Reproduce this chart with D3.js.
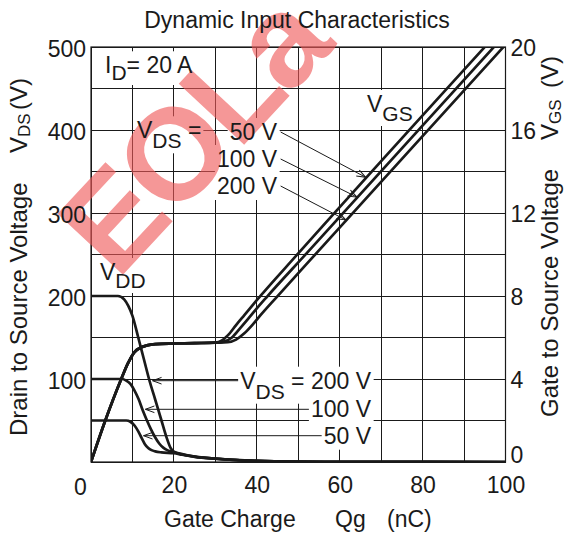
<!DOCTYPE html>
<html>
<head>
<meta charset="utf-8">
<script src="https://cdn.jsdelivr.net/npm/d3@7"></script>
<style>
  body { margin: 0; background: #fff; }
  svg { display: block; font-family: "Liberation Sans", Arial, sans-serif; }
</style>
</head>
<body>
<div id="chart"></div>
<script>
////////////////////////////////////////////////////////////////////
////////////////////////////  Data  ////////////////////////////////
const qgTicks = [0, 20, 40, 60, 80, 100];
const vdsTicks = [100, 200, 300, 400, 500];
const vgsTicks = [0, 4, 8, 12, 16, 20];
const vddNames = ["200 V", "100 V", "50 V"];

// drain-source voltage vs gate charge  [Qg nC, VDS V]
const vds200 = [[0, 200], [6.5, 200], [8, 196], [9, 188], [10, 176], [11.4, 150], [12.7, 125], [14, 100],
  [15.5, 75], [17, 50], [18.2, 30], [19.2, 17], [20, 12.5], [22, 9.5], [25, 6.6], [30, 4.1], [35, 2.5],
  [40, 1.5], [50, 0.5], [60, 0.2], [100, 0]];
const vds100 = [[0, 100], [7.5, 100], [8.5, 98], [9.5, 94], [10.5, 86], [11.5, 75.5], [12.5, 62], [13.5, 50],
  [14.5, 39], [15.5, 29.5], [16.5, 22], [17.5, 17], [18.5, 14], [20, 11.8], [22, 9.1], [25, 6.4], [30, 4],
  [35, 2.4], [40, 1.45], [50, 0.5], [60, 0.2], [100, 0]];
const vds50 = [[0, 50], [8.5, 50], [9.5, 48.5], [10.5, 44], [11.4, 37], [12.2, 29], [13, 21.5], [13.8, 17],
  [14.6, 14.3], [15.5, 12.8], [17, 11.6], [20, 10.6], [22, 8.7], [25, 6.2], [30, 3.9], [35, 2.3],
  [40, 1.4], [50, 0.5], [60, 0.2], [100, 0]];

// gate-source voltage vs gate charge  [Qg nC, VGS V]
const vgsRise = [[0, 0], [3.45, 2], [7.3, 4], [8.9, 4.75], [10.5, 5.3], [12, 5.52], [13.5, 5.62],
  [15.5, 5.68], [20, 5.71], [25, 5.73]];
const vgs50 = [[30, 5.76], [31.5, 5.85], [33, 6.1], [35, 6.6], [37, 7.08], [40, 7.8], [50, 10.05], [95, 20]];
const vgs100 = [[30, 5.75], [32, 5.8], [34, 6.0], [36, 6.45], [38, 6.92], [40, 7.4], [42.4, 7.95], [52, 10.05], [97.2, 20]];
const vgs200 = [[30, 5.75], [33, 5.77], [35, 5.9], [37, 6.2], [39, 6.62], [41, 7.1], [44.8, 7.95], [55, 10.2], [99.5, 20]];

// VGS level where the "VDS = .." pointers touch each curve (50, 100, 200 V)
const vgsArrowAt = [13.75, 12.8, 11.7];

////////////////////////////////////////////////////////////////////
////////////////////////////  Init  ////////////////////////////////
const width = 564;
const height = 536;
const margin = { top: 47, right: 58.5, bottom: 74, left: 91 };
const ink = "#1a1a1a";

const svg = d3.select("#chart").append("svg")
  .attr("width", width).attr("height", height);

const xScale = d3.scaleLinear().domain([0, 100]).range([margin.left, width - margin.right]);
const yLeft = d3.scaleLinear().domain([0, 500]).range([height - margin.bottom, margin.top]);
const yRight = d3.scaleLinear().domain([0, 20]).range([height - margin.bottom, margin.top]);

const defs = svg.append("defs");
defs.append("clipPath").attr("id", "plot-clip")
  .append("rect")
  .attr("x", margin.left).attr("y", margin.top)
  .attr("width", xScale.range()[1] - margin.left)
  .attr("height", yLeft.range()[0] - margin.top);

defs.append("marker")
  .attr("id", "arrow")
  .attr("viewBox", "-11 -5 12 10")
  .attr("refX", 0).attr("refY", 0)
  .attr("markerWidth", 12).attr("markerHeight", 10)
  .attr("markerUnits", "userSpaceOnUse")
  .attr("orient", "auto")
  .append("path")
  .attr("d", "M-9,-3.3L0,0L-9,3.3")
  .attr("fill", "none").attr("stroke", ink).attr("stroke-width", 1);

////////////////////////////////////////////////////////////////////
////////////////////////////  Grid  ////////////////////////////////
const grid = svg.append("g").attr("stroke", ink).attr("stroke-width", 1).attr("shape-rendering", "crispEdges");
grid.selectAll(".gx").data(xScale.ticks(10)).join("line")
  .attr("x1", (d) => xScale(d)).attr("x2", (d) => xScale(d))
  .attr("y1", yLeft.range()[0]).attr("y2", yLeft.range()[1]);
grid.selectAll(".gy").data(yLeft.ticks(10)).join("line")
  .attr("x1", xScale.range()[0]).attr("x2", xScale.range()[1])
  .attr("y1", (d) => yLeft(d)).attr("y2", (d) => yLeft(d));

// white boxes behind the in-plot labels go here (they hide the grid)
const bgLayer = svg.append("g");

////////////////////////////////////////////////////////////////////
////////////////////////////  Curves  //////////////////////////////
const lineVds = d3.line().x((d) => xScale(d[0])).y((d) => yLeft(d[1])).curve(d3.curveMonotoneX);
const lineVgs = d3.line().x((d) => xScale(d[0])).y((d) => yRight(d[1])).curve(d3.curveMonotoneX);

const curves = svg.append("g").attr("clip-path", "url(#plot-clip)")
  .attr("fill", "none").attr("stroke", ink).attr("stroke-width", 2.7)
  .attr("stroke-linejoin", "round");

const vdsPaths = [vds200, vds100, vds50].map((d) => curves.append("path").attr("d", lineVds(d)).node());
const vgsPaths = [vgs50, vgs100, vgs200].map((d) => curves.append("path").attr("d", lineVgs(vgsRise.concat(d))).node());

// frame
svg.append("rect")
  .attr("x", margin.left).attr("y", margin.top)
  .attr("width", xScale.range()[1] - margin.left)
  .attr("height", yLeft.range()[0] - margin.top)
  .attr("fill", "none").attr("stroke", ink).attr("stroke-width", 1.2);

////////////////////////////////////////////////////////////////////
////////////////////////////  Watermark  ///////////////////////////
svg.append("text")
  .attr("transform", "translate(117,281) rotate(-47)")
  .attr("font-size", 130).attr("font-weight", "bold")
  .attr("letter-spacing", -5).attr("word-spacing", -30)
  .attr("fill", "#f05858").attr("opacity", 0.62)
  .text("EOL a");

////////////////////////////////////////////////////////////////////
////////////////////////////  Axes  ////////////////////////////////
const fontSize = 23;

const xAxis = d3.axisBottom(xScale).tickValues(qgTicks).tickSize(0).tickPadding(14.7);
const yAxisL = d3.axisLeft(yLeft).tickValues(vdsTicks).tickSize(0).tickPadding(5);
const yAxisR = d3.axisRight(yRight).tickValues(vgsTicks).tickSize(0).tickPadding(5);

function styleAxis(g) {
  g.attr("font-size", fontSize).attr("font-family", null);
  g.select(".domain").remove();
  g.selectAll("text").attr("fill", ink);
}

svg.append("g")
  .attr("transform", `translate(0,${height - margin.bottom})`)
  .call(xAxis).call(styleAxis)
  .selectAll("text").filter((d) => d === 0).attr("dx", -11).attr("y", 16.7);

svg.append("g")
  .attr("transform", `translate(${margin.left},0)`)
  .call(yAxisL).call(styleAxis)
  .selectAll("text").attr("dy", "0.4em");

svg.append("g")
  .attr("transform", `translate(${xScale.range()[1]},0)`)
  .call(yAxisR).call(styleAxis)
  .selectAll("text").attr("dy", (d) => (d === 0 ? "0em" : "0.38em"));

// titles
svg.append("text")
  .attr("x", 297).attr("y", 28).attr("text-anchor", "middle")
  .attr("font-size", fontSize).attr("fill", ink)
  .text("Dynamic Input Characteristics");

const xTitle = svg.append("text").attr("y", 527).attr("font-size", fontSize).attr("fill", ink);
xTitle.append("tspan").attr("x", 164).text("Gate Charge");
xTitle.append("tspan").attr("x", 335).text("Qg");
xTitle.append("tspan").attr("x", 387).text("(nC)");

function axisTitle(x, yStart, main, sym, sub, symAt, unitAt) {
  const t = svg.append("text")
    .attr("transform", `translate(${x},${yStart}) rotate(-90)`)
    .attr("font-size", 24).attr("fill", ink);
  t.append("tspan").attr("x", 0).text(main);
  t.append("tspan").attr("x", symAt).text(sym);
  t.append("tspan").attr("font-size", 17).attr("dy", 3).text(sub);
  t.append("tspan").attr("x", unitAt).attr("dy", -3).text("(V)");
}
axisTitle(27, 436, "Drain to Source Voltage", "V", "DS", 283, 326);
axisTitle(558, 417, "Gate to Source Voltage", "V", "GS", 277, 329);

////////////////////////////////////////////////////////////////////
////////////////////////////  Labels  //////////////////////////////
const labels = svg.append("g").attr("font-size", fontSize).attr("fill", ink);

// parts: [text, isSubscript]
function richLabel(x, y, parts, anchor = "start", shift = 9) {
  const t = labels.append("text").attr("x", x).attr("y", y).attr("text-anchor", anchor);
  let cur = 0;
  parts.forEach(([s, sub]) => {
    const sp = t.append("tspan").text(s);
    if (sub) sp.attr("font-size", 21);
    const want = sub ? shift : 0;
    if (want !== cur) { sp.attr("dy", want - cur); cur = want; }
  });
  const bb = t.node().getBBox();
  bgLayer.append("rect")
    .attr("x", bb.x - 2).attr("y", bb.y - 1)
    .attr("width", bb.width + 4).attr("height", bb.height + 2)
    .attr("fill", "#fff");
  return bb;
}

richLabel(105, 73.3, [["I"], ["D", true], ["= 20 A"]], "start", 6.7);
richLabel(100, 280, [["V"], ["DD", true]], "start", 8);
richLabel(367, 112, [["V"], ["GS", true]], "start", 9);

// first point of a path that reaches the pixel row y
function pointAtY(path, y, rising) {
  const len = path.getTotalLength();
  for (let l = 0; l <= len; l += 0.25) {
    const p = path.getPointAtLength(l);
    if (rising ? p.y <= y : p.y >= y) return p;
  }
  return path.getPointAtLength(len);
}

const arrows = svg.append("g").attr("stroke", ink).attr("stroke-width", 1);

// upper block: VDS = 50 / 100 / 200 V -> VGS curves
richLabel(137, 138.3, [["V"], ["DS", true], [" ="]], "start", 10);
[["50 V", 140], ["100 V", 167], ["200 V", 194]].forEach(([name, base], i) => {
  const bb = richLabel(277, base, [[name]], "end");
  const p = pointAtY(vgsPaths[i], yRight(vgsArrowAt[i]), true);
  arrows.append("line")
    .attr("x1", bb.x + bb.width + 3).attr("y1", base - 8)
    .attr("x2", p.x - 1.5).attr("y2", p.y + 0.8)
    .attr("marker-end", "url(#arrow)");
});

// lower block: VDS = 200 / 100 / 50 V -> VDS curves
[[[["V"], ["DS", true], [" = 200 V"]], 388.7], [[["100 V"]], 417.3], [[["50 V"]], 443.7]].forEach(([parts, base], i) => {
  const bb = richLabel(371, base, parts, "end", 10);
  const p = pointAtY(vdsPaths[i], base - 8, false);
  arrows.append("line")
    .attr("x1", bb.x - 2).attr("y1", base - 8)
    .attr("x2", p.x + 3).attr("y2", base - 8)
    .attr("marker-end", "url(#arrow)");
});
</script>
</body>
</html>
